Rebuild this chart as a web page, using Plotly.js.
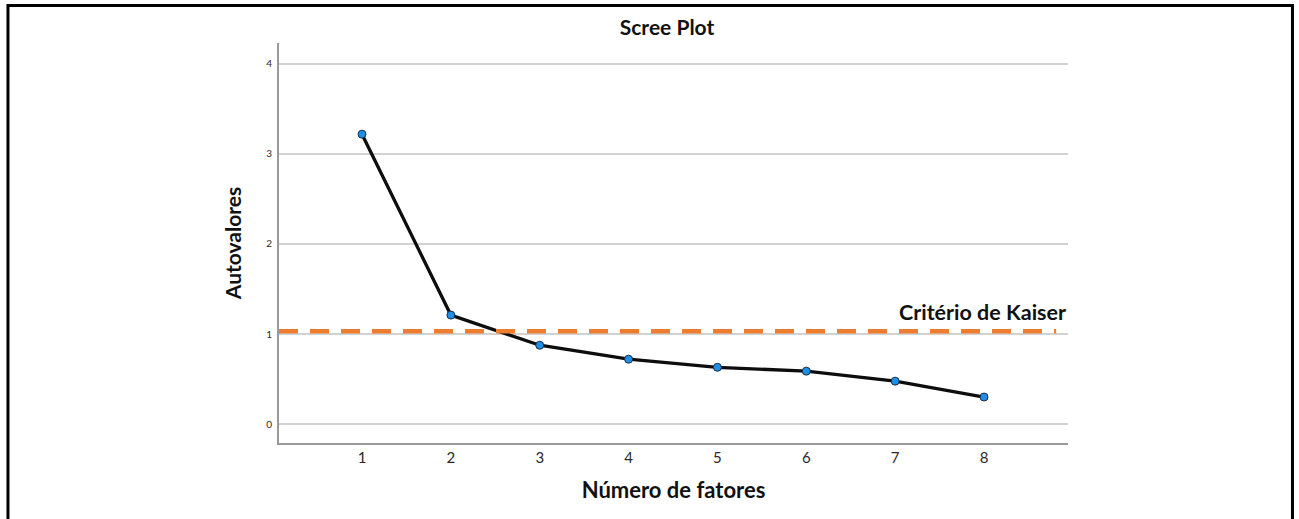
<!DOCTYPE html>
<html>
<head>
<meta charset="utf-8">
<script src="https://cdn.plot.ly/plotly-3.0.1.min.js"></script>
<style>
  html, body { margin: 0; padding: 0; background: #ffffff; }
  #chart { width: 1299px; height: 519px; }
</style>
</head>
<body>
<div id="chart"></div>
<script>
// Data
const factors = [1, 2, 3, 4, 5, 6, 7, 8];
const eigenvalues = [3.22, 1.21, 0.875, 0.72, 0.63, 0.587, 0.476, 0.30];
const kaiserValue = 1.03;
const kaiserLabel = "Critério de Kaiser";
const xTickVals = [1, 2, 3, 4, 5, 6, 7, 8];
const yTickVals = [0, 1, 2, 3, 4];

const FONT = "Lato, 'Open Sans', sans-serif";

const traces = [
  {
    x: factors,
    y: eigenvalues,
    type: "scatter",
    mode: "lines+markers",
    line: { color: "#0d0d0d", width: 3.3 },
    marker: { color: "#1f8fe6", size: 8, line: { color: "#1b2e4a", width: 1 } },
    showlegend: false,
    hoverinfo: "x+y"
  }
];

const layout = {
  width: 1299,
  height: 519,
  paper_bgcolor: "#ffffff",
  plot_bgcolor: "#ffffff",
  margin: { l: 279, r: 231, t: 43, b: 76 },
  showlegend: false,
  title: {
    text: "<b>Scree Plot</b>",
    font: { family: FONT, size: 21, color: "#111111" },
    xref: "container", x: 0.5135, xanchor: "center",
    yref: "container", y: 0.946, yanchor: "middle"
  },
  xaxis: {
    range: [0.066, 8.945],
    tickvals: xTickVals,
    ticktext: xTickVals.map(String),
    showgrid: false,
    zeroline: false,
    showline: true,
    linecolor: "#9a9a9a",
    linewidth: 2,
    ticks: "",
    tickfont: { family: FONT, size: 15, color: "#2a2a2a" },
    title: {
      text: "<b>Número de fatores</b>",
      font: { family: FONT, size: 22, color: "#111111" },
      standoff: 18
    },
    fixedrange: true
  },
  yaxis: {
    range: [-0.211, 4.233],
    tickvals: yTickVals,
    ticktext: yTickVals.map(String),
    showgrid: true,
    gridcolor: "#d2d2d2",
    gridwidth: 1.5,
    zeroline: false,
    showline: true,
    linecolor: "#9a9a9a",
    linewidth: 2,
    ticks: "",
    ticklabelstandoff: 3,
    tickfont: { family: FONT, size: 10, color: "#2a2a2a" },
    title: {
      text: "<b>Autovalores</b>",
      font: { family: FONT, size: 21, color: "#111111" },
      standoff: 19
    },
    fixedrange: true
  },
  shapes: [
    {
      type: "line",
      xref: "paper", yref: "y",
      x0: 0, x1: 0.985,
      y0: kaiserValue, y1: kaiserValue,
      line: { color: "#ED7D31", width: 4.5, dash: "19px,12px" },
      layer: "above"
    },
    {
      type: "rect",
      xref: "paper", yref: "paper",
      x0: -0.3435, x1: 1.2845,
      y0: -0.25, y1: 1.0935,
      line: { color: "#000000", width: 3 },
      fillcolor: "rgba(0,0,0,0)",
      layer: "above"
    }
  ],
  annotations: [
    {
      text: "<b>" + kaiserLabel + "</b>",
      xref: "paper", x: 1.0, xanchor: "right",
      yref: "y", y: kaiserValue, yanchor: "bottom",
      yshift: 4,
      showarrow: false,
      font: { family: FONT, size: 21.5, color: "#111111" }
    }
  ]
};

Plotly.newPlot("chart", traces, layout, { displayModeBar: false, staticPlot: true });
</script>
</body>
</html>
